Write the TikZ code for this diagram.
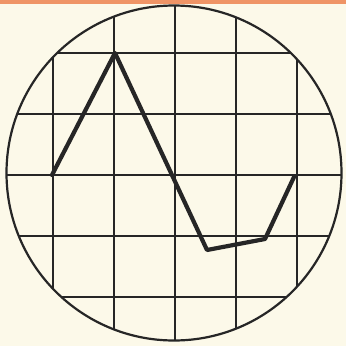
\documentclass[tikz,border=0pt]{standalone}
\definecolor{paper}{HTML}{FCF9E9}
\definecolor{strip}{HTML}{EF9466}
\tikzset{gridline/.style={line width=2pt,black!85},
  trace/.style={line width=4.2pt,black!85,line join=round,line cap=round}}
\begin{document}
\begin{tikzpicture}[x=1pt,y=-1pt]
  \useasboundingbox (0,0) rectangle (346,346);
  \fill[paper] (0,0) rectangle (346,346);
  \fill[strip] (0,0) rectangle (346,3.5);
  % graticule inside the screen
  \begin{scope}
    \clip (174,173) circle (167.5);
    \foreach \g in {53,114,175,236,297} {
      \draw[gridline] (\g,0) -- (\g,346);
      \draw[gridline] (0,\g) -- (346,\g);
    }
  \end{scope}
  \draw[line width=2.2pt,black!85] (174,173) circle (167.5);
  % waveform
  \coordinate (w0) at (52,175);
  \coordinate (w1) at (115,53);
  \coordinate (w2) at (207,250);
  \coordinate (w3) at (265,239);
  \coordinate (w4) at (294,177);
  \draw[trace] (w0) -- (w1) -- (w2) -- (w3) -- (w4);
\end{tikzpicture}
\end{document}
